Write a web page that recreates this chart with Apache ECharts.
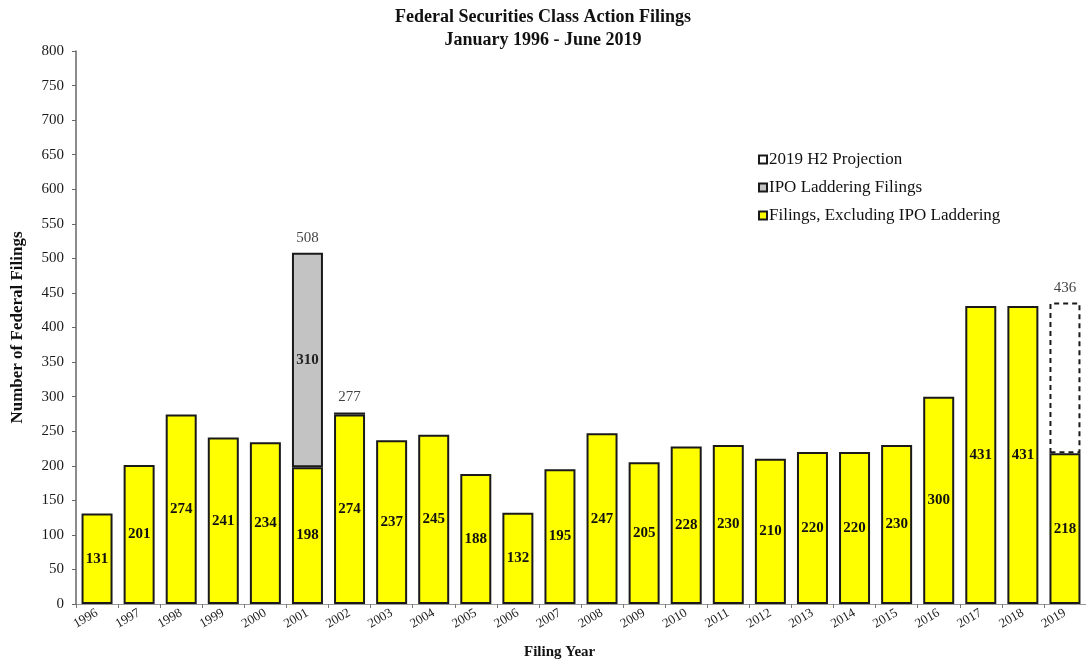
<!DOCTYPE html>
<html>
<head>
<meta charset="utf-8">
<script src="https://cdn.jsdelivr.net/npm/echarts@6/dist/echarts.min.js"></script>
<style>
  html, body { margin: 0; padding: 0; background: #fff; }
  #chart { width: 1086px; height: 666px; }
</style>
</head>
<body>
<div id="chart"></div>
<script>
// Filing years
const years = ['1996','1997','1998','1999','2000','2001','2002','2003','2004','2005','2006','2007',
               '2008','2009','2010','2011','2012','2013','2014','2015','2016','2017','2018','2019'];
// Filings, excluding IPO laddering
const coreFilings = [131,201,274,241,234,198,274,237,245,188,132,195,
                     247,205,228,230,210,220,220,230,300,431,431,218];
// IPO laddering filings (2001 and 2002 only)
const ipoLaddering = [null,null,null,null,null,310,3,null,null,null,null,null,
                      null,null,null,null,null,null,null,null,null,null,null,null];
// Projected second half of 2019
const h2Projection = [null,null,null,null,null,null,null,null,null,null,null,null,
                      null,null,null,null,null,null,null,null,null,null,null,218];
// Years that get a total printed above the bar
const totalYears = ['2001','2002','2019'];

const SERIF = '"Liberation Serif", "Times New Roman", serif';

const totals = totalYears.map(y => {
  const i = years.indexOf(y);
  return [y, (coreFilings[i] || 0) + (ipoLaddering[i] || 0) + (h2Projection[i] || 0)];
});

const chart = echarts.init(document.getElementById('chart'));
chart.setOption({
  backgroundColor: '#fff',
  animation: false,
  title: [{
    text: 'Federal Securities Class Action Filings\nJanuary 1996 - June 2019',
    left: 'center',
    top: 6,
    padding: [0, 0, 0, 20],
    textStyle: { fontFamily: SERIF, fontSize: 18, fontWeight: 'bold', color: '#111', lineHeight: 23, align: 'center' }
  }, {
    text: 'Filing Year',
    left: 524,
    top: 645,
    padding: 0,
    textStyle: { fontFamily: SERIF, fontSize: 15, fontWeight: 'bold', color: '#111' }
  }],
  legend: {
    orient: 'vertical',
    left: 753,
    top: 146,
    itemWidth: 8,
    itemHeight: 8,
    itemGap: 11,
    icon: 'rect',
    data: ['2019 H2 Projection', 'IPO Laddering Filings', 'Filings, Excluding IPO Laddering'],
    textStyle: { fontFamily: SERIF, fontSize: 17, color: '#111', padding: [8, 0, 0, -3] }
  },
  grid: { left: 76, right: -4, top: 51, bottom: 62, containLabel: false },
  xAxis: {
    type: 'category',
    data: years,
    axisLine: { show: true, lineStyle: { color: '#999', width: 1 } },
    axisTick: { show: true, length: 4, lineStyle: { color: '#777' } },
    axisLabel: { interval: 0, rotate: 30, fontFamily: SERIF, fontSize: 13, color: '#1a1a1a', margin: 8 }
  },
  yAxis: {
    type: 'value',
    min: 0,
    max: 800,
    interval: 50,
    name: 'Number of Federal Filings',
    nameLocation: 'middle',
    nameGap: 50,
    nameTextStyle: { fontFamily: SERIF, fontSize: 17, fontWeight: 'bold', color: '#111' },
    axisLine: { show: true, lineStyle: { color: '#666', width: 1.5 } },
    axisTick: { show: true, length: 4, lineStyle: { color: '#666' } },
    splitLine: { show: false },
    axisLabel: { fontFamily: SERIF, fontSize: 15, color: '#1a1a1a', margin: 12 }
  },
  series: [{
    name: 'Filings, Excluding IPO Laddering',
    type: 'bar',
    stack: 'total',
    barWidth: 31,
    data: coreFilings,
    itemStyle: { color: '#FFFF00', borderColor: '#1a1a1a', borderWidth: 2 },
    label: {
      show: true, position: 'inside',
      fontFamily: SERIF, fontSize: 15, fontWeight: 'bold', color: '#111'
    }
  }, {
    name: 'IPO Laddering Filings',
    type: 'bar',
    stack: 'total',
    barWidth: 31,
    data: ipoLaddering,
    itemStyle: { color: '#C3C3C3', borderColor: '#1a1a1a', borderWidth: 2 },
    label: {
      show: true, position: 'inside',
      fontFamily: SERIF, fontSize: 15, fontWeight: 'bold', color: '#222',
      formatter: p => (p.value >= 20 ? String(p.value) : '')
    }
  }, {
    name: '2019 H2 Projection',
    type: 'bar',
    stack: 'total',
    barWidth: 31,
    data: h2Projection,
    itemStyle: { color: 'rgba(255,255,255,0)', borderColor: '#1a1a1a', borderWidth: 2, borderType: [5, 4] }
  }, {
    name: 'Totals',
    type: 'scatter',
    data: totals,
    symbol: 'rect',
    symbolSize: 1,
    itemStyle: { color: 'rgba(0,0,0,0)' },
    label: {
      show: true, position: 'top', distance: 7,
      fontFamily: SERIF, fontSize: 15, color: '#111',
      formatter: p => String(p.value[1])
    },
    z: 5
  }]
});
</script>
</body>
</html>
